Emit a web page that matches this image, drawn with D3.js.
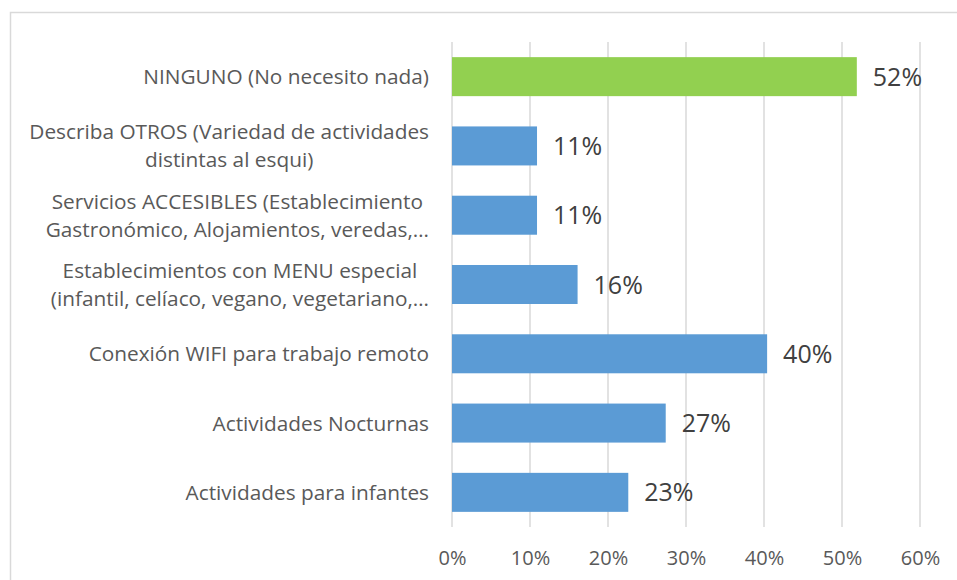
<!DOCTYPE html>
<html>
<head>
<meta charset="utf-8">
<script src="https://cdn.jsdelivr.net/npm/d3@7"></script>
<style>
  body { margin: 0; background: #fff; }
  svg { font-family: "Open Sans", Lato, sans-serif; }
</style>
</head>
<body>
<svg id="chart" width="957" height="580"></svg>
<script>
// categories, top to bottom (each entry = lines of the label)
var categories = [
    ["NINGUNO (No necesito nada)"],
    ["Describa OTROS (Variedad de actividades", "distintas al esqui)"],
    ["Servicios ACCESIBLES (Establecimiento", "Gastronómico, Alojamientos, veredas,…"],
    ["Establecimientos con MENU especial", "(infantil, celíaco, vegano, vegetariano,…"],
    ["Conexión WIFI para trabajo remoto"],
    ["Actividades Nocturnas"],
    ["Actividades para infantes"]
];
// share of answers
var values = [0.519, 0.109, 0.109, 0.161, 0.404, 0.274, 0.226];
// x axis ticks
var xTicks = [0, 0.1, 0.2, 0.3, 0.4, 0.5, 0.6];

var svg = d3.select("#chart");

//chart frame (runs past the picture on right and bottom)
svg.append("rect")
    .attr("x", 10.5).attr("y", 12.5)
    .attr("width", 960).attr("height", 600)
    .attr("fill", "#fff")
    .attr("stroke", "#d9d9d9")
    .attr("stroke-width", 1.5);

var x = d3.scaleLinear().domain([0, 0.6]).range([452, 920]);
var y = d3.scaleBand()
    .domain(d3.range(categories.length))
    .range([42, 527])
    .paddingInner(0.437)
    .paddingOuter(0.437 / 2);

//vertical gridlines
svg.append("g")
    .selectAll("line")
    .data(xTicks)
    .enter().append("line")
    .attr("x1", function(d) { return x(d); })
    .attr("x2", function(d) { return x(d); })
    .attr("y1", 42)
    .attr("y2", 527)
    .attr("stroke", "#d9d9d9")
    .attr("stroke-width", 1.5);

//x axis labels
var xAxis = svg.append("g")
    .attr("transform", "translate(0,527)")
    .call(d3.axisBottom(x).tickValues(xTicks).tickFormat(d3.format(".0%")).tickSize(0).tickPadding(24));
xAxis.select(".domain").remove();
xAxis.selectAll("text")
    .attr("font-family", "'Open Sans', sans-serif")
    .attr("font-size", 20)
    .attr("fill", "#595959");

//bars
svg.append("g")
    .selectAll("rect")
    .data(values)
    .enter().append("rect")
    .attr("x", x(0))
    .attr("y", function(d, i) { return y(i); })
    .attr("width", function(d) { return x(d) - x(0); })
    .attr("height", y.bandwidth())
    .attr("fill", function(d, i) { return i === 0 ? "#92d050" : "#5b9bd5"; });

//value labels
svg.append("g")
    .selectAll("text")
    .data(values)
    .enter().append("text")
    .attr("x", function(d) { return x(d) + 16; })
    .attr("y", function(d, i) { return y(i) + y.bandwidth() / 2; })
    .attr("dy", "0.36em")
    .attr("font-size", 25)
    .attr("fill", "#404040")
    .text(function(d) { return Math.round(d * 100) + "%"; });

//category labels, lines centered to each other, block right aligned
var lineH = 28;
var labels = svg.append("g")
    .selectAll("g")
    .data(categories)
    .enter().append("g");

labels.each(function(lines, i) {
    var g = d3.select(this);
    var cy = y(i) + y.bandwidth() / 2;
    var texts = g.selectAll("text")
        .data(lines)
        .enter().append("text")
        .attr("font-size", 20.8)
        .attr("fill", "#595959")
        .attr("text-anchor", "middle")
        .attr("dy", "0.36em")
        .attr("y", function(d, j) { return cy + (j - (lines.length - 1) / 2) * lineH; })
        .text(function(d) { return d; });
    var maxW = 0;
    texts.each(function() { maxW = Math.max(maxW, this.getComputedTextLength()); });
    texts.attr("x", 429 - maxW / 2);
});
</script>
</body>
</html>
